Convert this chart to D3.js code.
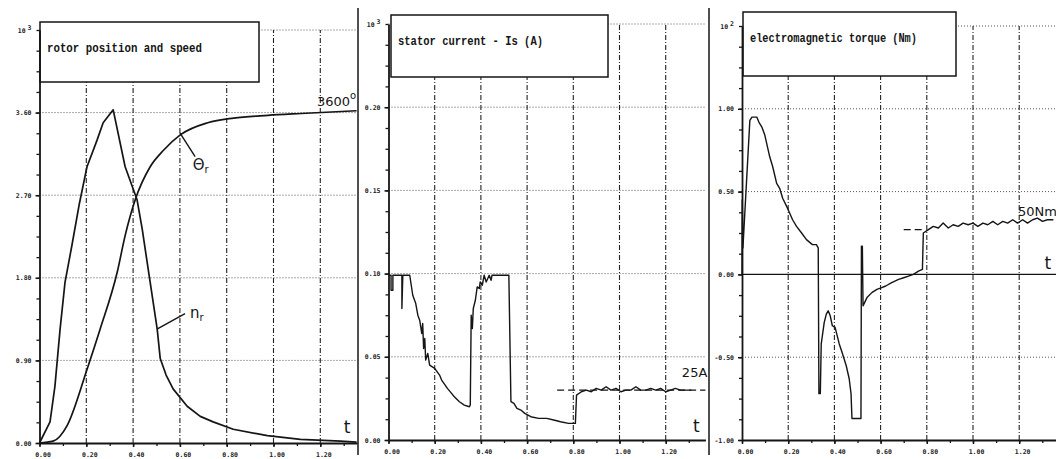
<!DOCTYPE html>
<html><head><meta charset="utf-8">
<script src="https://cdn.jsdelivr.net/npm/d3@7"></script>
<style>html,body{margin:0;padding:0;background:#fff;} svg{display:block}</style>
</head><body><svg id="c" width="1056" height="459"></svg>
<script>
// ---------- data ----------
const xTicks = [0, 0.2, 0.4, 0.6, 0.8, 1.0, 1.2];
const xTickLabels = ["0.00", "0.20", "0.40", "0.60", "0.80", "1.00", "1.20"];

// panel 1: rotor position and speed (x10^3)
const p1YTicks = [0, 0.9, 1.8, 2.7, 3.6];
const p1YLabels = ["0.00", "0.90", "1.80", "2.70", "3.60"];
const speedT = [0.000, 0.045, 0.066, 0.088, 0.109, 0.139, 0.169, 0.203, 0.246, 0.272, 0.315, 0.366, 0.417, 0.439, 0.460, 0.473, 0.503, 0.516, 0.541, 0.571, 0.631, 0.687, 0.742, 0.828, 0.974, 1.115, 1.287, 1.355];
const speedV = [0.00, 0.23, 0.62, 1.24, 1.75, 2.16, 2.59, 3.01, 3.30, 3.49, 3.63, 3.01, 2.65, 2.33, 1.97, 1.75, 1.24, 0.92, 0.74, 0.59, 0.40, 0.29, 0.23, 0.15, 0.08, 0.04, 0.02, 0.01];
const posT = [0.000, 0.058, 0.118, 0.204, 0.259, 0.332, 0.366, 0.409, 0.473, 0.530, 0.603, 0.719, 0.830, 0.976, 1.118, 1.355];
const posV = [0.00, 0.02, 0.19, 0.81, 1.24, 1.86, 2.26, 2.65, 3.01, 3.19, 3.36, 3.49, 3.54, 3.57, 3.59, 3.62];

// panel 2: stator current (x10^3 A)
const p2YTicks = [0, 0.05, 0.10, 0.15, 0.20];
const p2YLabels = ["0.00", "0.05", "0.10", "0.15", "0.20"];
const curT = [0.000, 0.011, 0.011, 0.019, 0.019, 0.058, 0.058, 0.062, 0.092, 0.105, 0.118, 0.127, 0.135, 0.144, 0.148, 0.152, 0.157, 0.161, 0.170, 0.178, 0.200, 0.221, 0.230, 0.255, 0.273, 0.285, 0.307, 0.328, 0.350, 0.354, 0.358, 0.363, 0.367, 0.376, 0.384, 0.393, 0.397, 0.406, 0.414, 0.423, 0.436, 0.444, 0.448, 0.513, 0.521, 0.530, 0.543, 0.556, 0.573, 0.590, 0.616, 0.650, 0.685, 0.715, 0.745, 0.779, 0.809, 0.814, 0.835, 0.856, 0.878, 0.899, 0.921, 0.942, 0.963, 0.985, 1.006, 1.028, 1.049, 1.071, 1.092, 1.114, 1.135, 1.157, 1.178, 1.200, 1.221, 1.242, 1.264, 1.285, 1.311];
const curV = [0.099, 0.099, 0.090, 0.090, 0.099, 0.099, 0.079, 0.099, 0.099, 0.087, 0.082, 0.075, 0.072, 0.064, 0.070, 0.055, 0.061, 0.048, 0.052, 0.045, 0.043, 0.039, 0.036, 0.031, 0.028, 0.026, 0.023, 0.021, 0.020, 0.021, 0.075, 0.067, 0.079, 0.084, 0.092, 0.091, 0.095, 0.093, 0.099, 0.095, 0.099, 0.096, 0.099, 0.099, 0.099, 0.023, 0.022, 0.019, 0.018, 0.016, 0.014, 0.013, 0.013, 0.012, 0.011, 0.010, 0.010, 0.027, 0.029, 0.030, 0.029, 0.031, 0.030, 0.032, 0.030, 0.031, 0.029, 0.030, 0.030, 0.032, 0.030, 0.030, 0.031, 0.030, 0.031, 0.029, 0.030, 0.031, 0.030, 0.030, 0.030];
const curRef = 0.030; // 25 A level

// panel 3: electromagnetic torque
const p3YTicks = [-1.0, -0.5, 0, 0.5, 1.0];
const p3YLabels = ["-1.00", "-0.50", "0.00", "0.50", "1.00"];
const torT = [0.000, 0.001, 0.004, 0.034, 0.043, 0.064, 0.073, 0.086, 0.099, 0.120, 0.133, 0.150, 0.163, 0.176, 0.197, 0.219, 0.236, 0.258, 0.279, 0.305, 0.322, 0.330, 0.333, 0.339, 0.343, 0.356, 0.365, 0.373, 0.382, 0.391, 0.403, 0.421, 0.433, 0.451, 0.464, 0.472, 0.476, 0.515, 0.517, 0.521, 0.524, 0.541, 0.562, 0.584, 0.605, 0.622, 0.648, 0.678, 0.700, 0.721, 0.742, 0.764, 0.781, 0.785, 0.807, 0.828, 0.850, 0.871, 0.893, 0.914, 0.936, 0.957, 0.979, 1.000, 1.021, 1.043, 1.064, 1.086, 1.107, 1.129, 1.150, 1.172, 1.193, 1.215, 1.236, 1.258, 1.279, 1.301, 1.322, 1.348];
const torV = [0.00, 0.45, 0.16, 0.93, 0.95, 0.95, 0.92, 0.89, 0.84, 0.71, 0.65, 0.55, 0.52, 0.46, 0.40, 0.33, 0.29, 0.25, 0.21, 0.18, 0.18, 0.16, -0.72, -0.72, -0.42, -0.29, -0.24, -0.22, -0.25, -0.31, -0.32, -0.42, -0.47, -0.55, -0.63, -0.72, -0.87, -0.87, 0.17, 0.17, -0.19, -0.14, -0.11, -0.09, -0.08, -0.07, -0.05, -0.03, -0.02, -0.01, 0.00, 0.02, 0.03, 0.25, 0.27, 0.29, 0.28, 0.31, 0.28, 0.30, 0.29, 0.31, 0.30, 0.31, 0.29, 0.31, 0.30, 0.32, 0.30, 0.32, 0.31, 0.33, 0.31, 0.33, 0.31, 0.33, 0.34, 0.32, 0.33, 0.33];
const torRef = 0.27; // 50 Nm level

// ---------- layout ----------
const svg = d3.select("#c");
const INK = "#151515";
const zip = (a, b) => a.map((t, i) => ({t, v: b[i]}));

function panel(cfg) {
  const x = d3.scaleLinear().domain([0, cfg.tMax]).range([cfg.x0, cfg.x0 + cfg.tMax * cfg.pxPerUnit]);
  const y = d3.scaleLinear().domain(cfg.yDomain).range(cfg.yRange);
  const g = svg.append("g");
  const xR = x(cfg.tMax), yB = y(cfg.yDomain[0]), yT = y(cfg.yDomain[1]);

  const hVals = cfg.yTicks.concat([cfg.yDomain[1]]).filter(v => v !== cfg.yDomain[0] && v !== cfg.zeroLine);
  g.selectAll(".hg").data(hVals).join("line")
    .attr("x1", x(0)).attr("x2", xR).attr("y1", d => y(d)).attr("y2", d => y(d))
    .attr("stroke", "#555").attr("stroke-width", 1).attr("stroke-dasharray", "1,2");
  g.selectAll(".vg").data(xTicks.slice(1)).join("line")
    .attr("x1", d => x(d)).attr("x2", d => x(d)).attr("y1", yB).attr("y2", yT)
    .attr("stroke", "#222").attr("stroke-width", 1.1).attr("stroke-dasharray", "5,2,1,2");
  if (cfg.zeroLine !== undefined) {
    g.append("line").attr("x1", x(0)).attr("x2", xR).attr("y1", y(cfg.zeroLine)).attr("y2", y(cfg.zeroLine))
      .attr("stroke", INK).attr("stroke-width", 1.4);
  }

  g.append("rect").attr("x", cfg.box[0]).attr("y", cfg.box[1]).attr("width", cfg.box[2]).attr("height", cfg.box[3])
    .attr("fill", "#fff").attr("stroke", INK).attr("stroke-width", 1.5);
  g.append("text").attr("x", cfg.box[0] + 7).attr("y", cfg.box[1] + 30)
    .attr("font-family", "Liberation Mono, DejaVu Sans Mono, monospace").attr("font-weight", "bold")
    .attr("font-size", 12.5).attr("fill", INK).attr("textLength", cfg.titleW).attr("lengthAdjust", "spacingAndGlyphs")
    .text(cfg.title);

  const minorX = d3.range(0, cfg.tMax + 0.001, 0.1);
  const xMinor = g.append("g").attr("transform", `translate(0,${yB})`)
    .call(d3.axisBottom(x).tickValues(minorX).tickSize(3).tickFormat(""));
  xMinor.select(".domain").remove();
  xMinor.selectAll("line").attr("stroke", INK).attr("stroke-width", 1.3);
  const xAx = g.append("g").attr("transform", `translate(0,${yB})`)
    .call(d3.axisBottom(x).tickValues(xTicks).tickSize(4).tickSizeOuter(0).tickPadding(5).tickFormat((d, i) => xTickLabels[i]));
  xAx.select(".domain").attr("stroke", INK).attr("stroke-width", 1.8);
  xAx.selectAll("line").attr("stroke", INK).attr("stroke-width", 1.5);
  xAx.selectAll("text").attr("font-family", "DejaVu Sans Mono, monospace").attr("font-weight", "bold")
    .attr("font-size", 6.5).attr("fill", "#222").attr("dx", 3);

  const step = cfg.yTicks[1] - cfg.yTicks[0];
  const minorY = d3.range(cfg.yDomain[0], cfg.yDomain[1] + step / 8, step / 4);
  const yMinor = g.append("g").attr("transform", `translate(${x(0)},0)`)
    .call(d3.axisLeft(y).tickValues(minorY).tickSize(3).tickFormat(""));
  yMinor.select(".domain").remove();
  yMinor.selectAll("line").attr("stroke", INK).attr("stroke-width", 1.3);
  const yAx = g.append("g").attr("transform", `translate(${x(0)},0)`)
    .call(d3.axisLeft(y).tickValues(cfg.yTicks).tickSize(4).tickSizeOuter(0).tickPadding(4).tickFormat((d, i) => cfg.yLabels[i]));
  yAx.select(".domain").attr("stroke", INK).attr("stroke-width", 1.8);
  yAx.selectAll("line").attr("stroke", INK).attr("stroke-width", 1.5);
  yAx.selectAll("text").attr("font-family", "DejaVu Sans Mono, monospace").attr("font-weight", "bold")
    .attr("font-size", 6.5).attr("fill", "#222");
  const ex = g.append("text").attr("x", x(0) - 8).attr("y", yT + 3).attr("text-anchor", "end")
    .attr("font-family", "DejaVu Sans Mono, monospace").attr("font-weight", "bold").attr("font-size", 6.5).attr("fill", "#222");
  ex.append("tspan").text("10");
  ex.append("tspan").attr("dy", -3).attr("dx", 2).text(cfg.exp);

  g.append("text").attr("x", x(cfg.tLab[0])).attr("y", y(cfg.tLab[1]))
    .attr("font-family", "DejaVu Sans, sans-serif").attr("font-size", 17).attr("fill", INK).text("t");

  return {g, x, y};
}

function curve(p, data, curveType, w) {
  p.g.append("path").datum(data)
    .attr("d", d3.line().x(d => p.x(d.t)).y(d => p.y(d.v)).curve(curveType))
    .attr("fill", "none").attr("stroke", INK).attr("stroke-width", w).attr("stroke-linejoin", "round");
}

// ---------- panel 1 ----------
const P1 = panel({x0: 39.5, pxPerUnit: 234, tMax: 1.357, yDomain: [0, 4.5], yRange: [443, 30],
  yTicks: p1YTicks, yLabels: p1YLabels, exp: "3", box: [40, 22, 219, 60], title: "rotor position and speed", titleW: 155,
  tLab: [1.30, 0.11]});
curve(P1, zip(speedT, speedV), d3.curveLinear, 1.7);
curve(P1, zip(posT, posV), d3.curveMonotoneX, 1.7);
P1.g.append("line").attr("x1", P1.x(0.60)).attr("y1", P1.y(3.38)).attr("x2", P1.x(0.665)).attr("y2", P1.y(3.12))
  .attr("stroke", INK).attr("stroke-width", 1.4);
P1.g.append("line").attr("x1", P1.x(0.502)).attr("y1", P1.y(1.24)).attr("x2", P1.x(0.622)).attr("y2", P1.y(1.41))
  .attr("stroke", INK).attr("stroke-width", 1.4);
const thl = P1.g.append("text").attr("x", P1.x(0.655)).attr("y", P1.y(2.97))
  .attr("font-family", "DejaVu Sans, sans-serif").attr("font-size", 15).attr("fill", INK);
thl.append("tspan").text("Θ");
thl.append("tspan").attr("font-size", 10).attr("dy", 3).text("r");
const nrl = P1.g.append("text").attr("x", P1.x(0.643)).attr("y", P1.y(1.36))
  .attr("font-family", "DejaVu Sans, sans-serif").attr("font-size", 15).attr("fill", INK);
nrl.append("tspan").text("n");
nrl.append("tspan").attr("font-size", 10).attr("dy", 3).text("r");
const l36 = P1.g.append("text").attr("x", P1.x(1.186)).attr("y", P1.y(3.67))
  .attr("font-family", "DejaVu Sans, sans-serif").attr("font-size", 13).attr("fill", INK);
l36.append("tspan").text("3600");
l36.append("tspan").attr("font-size", 10).attr("dy", -7).text("o");

// ---------- panel 2 ----------
const P2 = panel({x0: 388.5, pxPerUnit: 231, tMax: 1.372, yDomain: [0, 0.25], yRange: [440, 24],
  yTicks: p2YTicks, yLabels: p2YLabels, exp: "3", box: [391, 15, 217, 62], title: "stator current - Is (A)", titleW: 145,
  tLab: [1.318, 0.005]});
P2.g.append("line").attr("x1", P2.x(0.73)).attr("x2", P2.x(1.372)).attr("y1", P2.y(curRef)).attr("y2", P2.y(curRef))
  .attr("stroke", INK).attr("stroke-width", 1.3).attr("stroke-dasharray", "7,4");
curve(P2, zip(curT, curV), d3.curveLinear, 1.4);
P2.g.append("text").attr("x", P2.x(1.27)).attr("y", P2.y(0.038))
  .attr("font-family", "DejaVu Sans, sans-serif").attr("font-size", 13).attr("fill", INK).text("25A");

// ---------- panel 3 ----------
const P3 = panel({x0: 742, pxPerUnit: 231, tMax: 1.36, yDomain: [-1, 1.5], yRange: [440, 26],
  yTicks: p3YTicks, yLabels: p3YLabels, exp: "2", box: [743, 12, 213, 64], title: "electromagnetic torque (Nm)", titleW: 167,
  tLab: [1.31, 0.03], zeroLine: 0});
P3.g.append("line").attr("x1", P3.x(0.70)).attr("x2", P3.x(0.79)).attr("y1", P3.y(torRef)).attr("y2", P3.y(torRef))
  .attr("stroke", INK).attr("stroke-width", 1.3).attr("stroke-dasharray", "7,4");
curve(P3, zip(torT, torV), d3.curveLinear, 1.4);
P3.g.append("text").attr("x", P3.x(1.195)).attr("y", P3.y(0.35))
  .attr("font-family", "DejaVu Sans, sans-serif").attr("font-size", 13).attr("fill", INK).text("50Nm");

svg.selectAll(".sep").data([358, 709]).join("line")
  .attr("x1", d => d).attr("x2", d => d).attr("y1", 8).attr("y2", 455)
  .attr("stroke", INK).attr("stroke-width", 1.5);
</script>
</body></html>
